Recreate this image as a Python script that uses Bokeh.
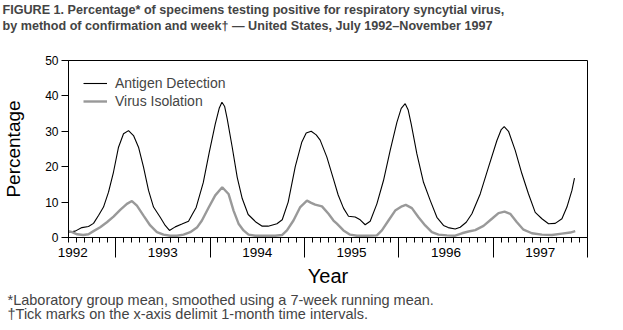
from bokeh.plotting import figure
from bokeh.models import (Range1d, FixedTicker, Legend, LegendItem, LinearAxis, Title,
                          CustomJSTickFormatter)
from bokeh.embed import file_html
from bokeh.resources import INLINE

# ---- data (decimal year, percentage) ----
antigen_x = [1992.500, 1992.571, 1992.642, 1992.712, 1992.765, 1992.818, 1992.871, 1992.924,
             1992.977, 1993.030, 1993.083, 1993.136, 1993.189, 1993.242, 1993.295, 1993.348,
             1993.401, 1993.472, 1993.525, 1993.570, 1993.631, 1993.702, 1993.772, 1993.811,
             1993.853, 1993.928, 1993.991, 1994.055, 1994.097, 1994.126, 1994.155, 1994.182,
             1994.235, 1994.288, 1994.341, 1994.404, 1994.489, 1994.553, 1994.616, 1994.709,
             1994.765, 1994.828, 1994.903, 1994.973, 1995.019, 1995.072, 1995.125, 1995.167,
             1995.238, 1995.308, 1995.358, 1995.414, 1995.467, 1995.538, 1995.591, 1995.644,
             1995.697, 1995.768, 1995.838, 1995.909, 1995.980, 1996.026, 1996.068, 1996.100,
             1996.132, 1996.192, 1996.262, 1996.333, 1996.404, 1996.474, 1996.524, 1996.598,
             1996.651, 1996.715, 1996.775, 1996.863, 1996.951, 1997.040, 1997.086, 1997.117,
             1997.163, 1997.234, 1997.305, 1997.375, 1997.446, 1997.517, 1997.587, 1997.658,
             1997.729, 1997.782, 1997.835, 1997.862]
antigen_y = [1.5, 1.8, 2.8, 3.1, 4.0, 6.2, 8.6, 12.8,
             18.5, 25.5, 29.3, 30.2, 28.8, 25.5, 19.9, 13.3,
             8.6, 5.7, 3.4, 2.0, 3.0, 3.8, 4.6, 6.5,
             8.5, 15.5, 24.0, 32.0, 36.5, 38.2, 37.0, 33.5,
             25.5, 17.0, 11.0, 6.5, 4.3, 3.2, 3.2, 3.9,
             5.0, 10.0, 20.0, 27.0, 29.5, 30.0, 29.0, 27.5,
             22.7, 16.5, 12.0, 8.3, 6.0, 5.8, 5.0, 3.6,
             4.6, 9.5, 16.1, 24.6, 32.5, 36.5, 37.8, 36.0,
             32.0, 23.6, 15.6, 10.5, 5.7, 3.4, 2.8, 2.4,
             2.9, 4.3, 6.7, 12.3, 19.9, 27.4, 30.5, 31.3,
             30.0, 24.6, 18.0, 12.3, 7.1, 5.3, 3.9, 4.0,
             5.3, 8.6, 13.3, 16.8]

virus_x = [1992.500, 1992.539, 1992.592, 1992.656, 1992.712, 1992.765, 1992.836, 1992.907,
           1992.977, 1993.048, 1993.119, 1993.172, 1993.225, 1993.295, 1993.366, 1993.437,
           1993.507, 1993.578, 1993.649, 1993.719, 1993.790, 1993.861, 1993.914, 1993.984,
           1994.055, 1994.129, 1994.196, 1994.249, 1994.302, 1994.355, 1994.408, 1994.479,
           1994.585, 1994.691, 1994.762, 1994.815, 1994.884, 1994.956, 1995.027, 1995.072,
           1995.114, 1995.186, 1995.255, 1995.308, 1995.344, 1995.414, 1995.485, 1995.556,
           1995.655, 1995.768, 1995.821, 1995.891, 1995.962, 1996.033, 1996.074, 1996.139,
           1996.209, 1996.280, 1996.351, 1996.421, 1996.510, 1996.598, 1996.669, 1996.739,
           1996.810, 1996.898, 1996.987, 1997.057, 1997.121, 1997.181, 1997.252, 1997.322,
           1997.411, 1997.517, 1997.623, 1997.729, 1997.817, 1997.870]
virus_y = [1.8, 1.5, 0.9, 0.7, 0.9, 1.8, 2.9, 4.3,
           5.9, 7.8, 9.5, 10.3, 9.0, 6.2, 3.4, 1.5,
           0.8, 0.5, 0.5, 0.8, 1.5, 2.8, 4.8, 8.4,
           11.9, 14.2, 12.3, 7.6, 3.9, 2.0, 0.8, 0.5,
           0.5, 0.5, 0.7, 2.0, 4.8, 8.6, 10.4, 9.8,
           9.3, 8.8, 6.7, 4.8, 3.9, 2.0, 0.8, 0.5,
           0.5, 0.6, 2.0, 4.8, 7.6, 8.8, 9.2, 8.3,
           5.7, 3.4, 1.5, 0.8, 0.6, 0.5, 1.2, 1.7,
           2.1, 3.3, 5.3, 6.9, 7.3, 6.7, 4.3, 2.2,
           1.2, 0.8, 0.7, 1.1, 1.4, 1.8]

year_ticks = [1993, 1994, 1995, 1996, 1997, 1998]
month_ticks = [1992.5 + i / 12 for i in range(67)]
year_labels = ["1992", "1993", "1994", "1995", "1996", "1997"]
year_label_pos = [1992.545, 1993.5, 1994.5, 1995.5, 1996.5, 1997.5]
y_ticks = [0, 10, 20, 30, 40, 50]

title_1 = "FIGURE 1. Percentage* of specimens testing positive for respiratory syncytial virus,"
title_2 = "by method of confirmation and week\u2020 \u2014 United States, July 1992\u2013November 1997"
foot_1 = "*Laboratory group mean, smoothed using a 7-week running mean."
foot_2 = "\u2020Tick marks on the x-axis delimit 1-month time intervals."

# ---- layout ----
W, H = 623, 330
L, R, T, B = 68, 36, 60, 93
FONT = "Liberation Sans"

p = figure(width=W, height=H, output_backend="svg", toolbar_location=None, title=None,
           x_range=Range1d(1992.5, 1998.0), y_range=Range1d(0, 50),
           min_border_left=L, min_border_right=R, min_border_top=T, min_border_bottom=B)
p.background_fill_color = "white"
p.border_fill_color = "white"
p.outline_line_color = "black"
p.outline_line_width = 1
p.grid.visible = False

# x axis with year boundary ticks and monthly minor ticks (labels hidden)
xa = p.xaxis[0]
xa.ticker = FixedTicker(ticks=year_ticks, minor_ticks=month_ticks)
xa.major_tick_out = 20
xa.major_tick_in = 0
xa.minor_tick_out = 5
xa.minor_tick_in = 0
xa.major_label_text_font_size = "0px"
xa.major_label_standoff = 0
xa.axis_line_color = "black"
xa.major_tick_line_color = "black"
xa.minor_tick_line_color = "black"

# second x axis carrying the year labels and the axis title
xb = LinearAxis(ticker=FixedTicker(ticks=year_label_pos),
                formatter=CustomJSTickFormatter(
                    args=dict(pos=year_label_pos, labs=year_labels),
                    code="""
let best = 0;
for (let i = 1; i < pos.length; i++) {
  if (Math.abs(pos[i] - tick) < Math.abs(pos[best] - tick)) best = i;
}
return labs[best];
"""))
xb.axis_line_color = None
xb.major_tick_line_color = None
xb.minor_tick_line_color = None
xb.major_tick_out = 0
xb.major_tick_in = 0
xb.major_label_standoff = -10
xb.major_label_text_font = FONT
xb.major_label_text_font_size = "13.5px"
xb.major_label_text_color = "black"
xb.axis_label = "Year"
xb.axis_label_text_font = FONT
xb.axis_label_text_font_size = "20px"
xb.axis_label_text_font_style = "normal"
xb.axis_label_text_color = "black"
xb.axis_label_standoff = 5
p.add_layout(xb, "below")

ya = p.yaxis[0]
ya.ticker = FixedTicker(ticks=y_ticks)
ya.major_tick_out = 7
ya.major_tick_in = 0
ya.minor_tick_line_color = None
ya.major_label_standoff = 3
ya.major_label_text_font = FONT
ya.major_label_text_font_size = "12px"
ya.major_label_text_color = "black"
ya.axis_line_color = "black"
ya.major_tick_line_color = "black"
ya.axis_label = "Percentage"
ya.axis_label_text_font = FONT
ya.axis_label_text_font_size = "19px"
ya.axis_label_text_font_style = "normal"
ya.axis_label_text_color = "black"
ya.axis_label_standoff = 18

# series
r_ant = p.line(antigen_x, antigen_y, line_color="black", line_width=1.1)
r_vir = p.line(virus_x, virus_y, line_color="#999999", line_width=2.4)

legend = Legend(items=[LegendItem(label="Antigen Detection", renderers=[r_ant]),
                       LegendItem(label="Virus Isolation", renderers=[r_vir])],
                location=(15, 127), padding=0, margin=0, spacing=0,
                glyph_width=24, glyph_height=18, label_height=18, label_standoff=8,
                label_text_font=FONT, label_text_font_size="14px",
                border_line_color=None, background_fill_alpha=0)
p.add_layout(legend, "center")

# empty space between the frame and the title (an invisible axis)
gap = LinearAxis(ticker=FixedTicker(ticks=[1995.0]))
gap.axis_line_color = None
gap.major_tick_line_color = None
gap.minor_tick_line_color = None
gap.major_tick_out = 27
gap.major_tick_in = 0
gap.major_label_standoff = 0
gap.major_label_text_color = None
p.add_layout(gap, "above")

# two-line title
p.add_layout(Title(text=title_1 + "\n" + title_2, text_font=FONT, text_font_size="12.6px",
                   text_font_style="bold", text_line_height=1.2, align="left",
                   vertical_align="bottom", offset=-66, standoff=0), "above")

# footnotes
p.add_layout(Title(text=foot_1 + "\n" + foot_2, text_font=FONT, text_font_size="14.5px",
                   text_font_style="normal", text_line_height=0.85, align="left",
                   vertical_align="top", offset=-61, standoff=5), "below")

open("out.html", "w").write(file_html(p, INLINE))
